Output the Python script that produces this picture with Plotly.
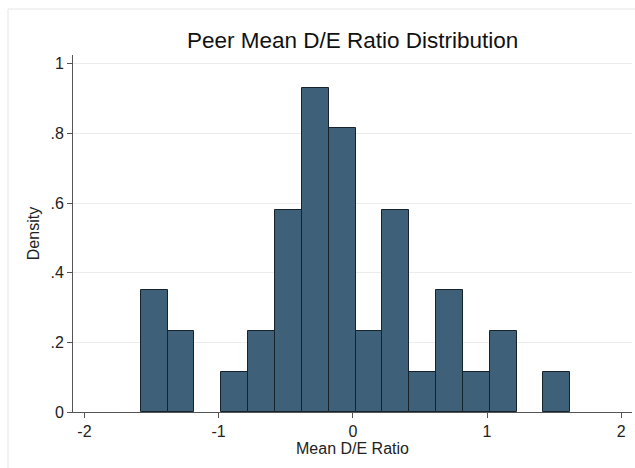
import plotly.graph_objects as go

# Histogram bins (left edges) and densities
bin_left = [-1.58, -1.38, -1.18, -0.98, -0.78, -0.58, -0.38, -0.18,
            0.02, 0.22, 0.42, 0.62, 0.82, 1.02, 1.22, 1.42]
density = [0.349, 0.233, 0.0, 0.116, 0.233, 0.581, 0.930, 0.814,
           0.233, 0.581, 0.116, 0.349, 0.116, 0.233, 0.0, 0.116]
bin_width = 0.2

x_ticks = [-2, -1, 0, 1, 2]
x_tick_labels = ["-2", "-1", "0", "1", "2"]
y_ticks = [0, 0.2, 0.4, 0.6, 0.8, 1]
y_tick_labels = ["0", ".2", ".4", ".6", ".8", "1"]

centers = [b + bin_width / 2 for b in bin_left]
edge_widths = [1 if d > 0 else 0 for d in density]

fig = go.Figure()
fig.add_trace(go.Bar(
    x=centers, y=density, width=bin_width,
    marker=dict(color="#3e6079", line=dict(color="#16222c", width=edge_widths)),
    showlegend=False,
))

font = "Liberation Sans, Arial, sans-serif"
W, H = 635, 468
ml, mr, mt, mb = 73, 3, 55, 56
pw = W - ml - mr
ph = H - mt - mb

fig.update_layout(
    width=W, height=H,
    margin=dict(l=ml, r=mr, t=mt, b=mb),
    paper_bgcolor="white", plot_bgcolor="white",
    bargap=0,
    font=dict(family=font, color="#222222", size=16),
    title=dict(text="Peer Mean D/E Ratio Distribution", x=352.7 / W, xanchor="center",
               y=1 - 40 / H, yanchor="middle", font=dict(size=22.5, color="#111111")),
    xaxis=dict(range=[-2.085, 2.08], tickvals=x_ticks, ticktext=x_tick_labels,
               ticks="outside", ticklen=5,
               tickcolor="#555555", showline=True, linecolor="#555555", linewidth=1,
               showgrid=False, zeroline=False,
               title=dict(text="Mean D/E Ratio", font=dict(size=16), standoff=2),
               tickfont=dict(size=16)),
    yaxis=dict(range=[0, 1.025], tickvals=y_ticks, ticktext=y_tick_labels,
               ticks="outside", ticklen=5, tickcolor="#555555",
               showline=True, linecolor="#555555", linewidth=1,
               showgrid=True, gridcolor="#ececec", gridwidth=1, zeroline=False,
               title=dict(text="Density", font=dict(size=16), standoff=6),
               tickfont=dict(size=16)),
    shapes=[dict(type="rect", xref="paper", yref="paper",
                 x0=(8 - ml) / pw, x1=(W + 10 - ml) / pw,
                 y0=-(H + 10 - (mt + ph)) / ph, y1=(mt + ph - 9) / ph,
                 line=dict(color="#e6e6e6", width=1), layer="below")],
)

fig.write_html("out.html")
